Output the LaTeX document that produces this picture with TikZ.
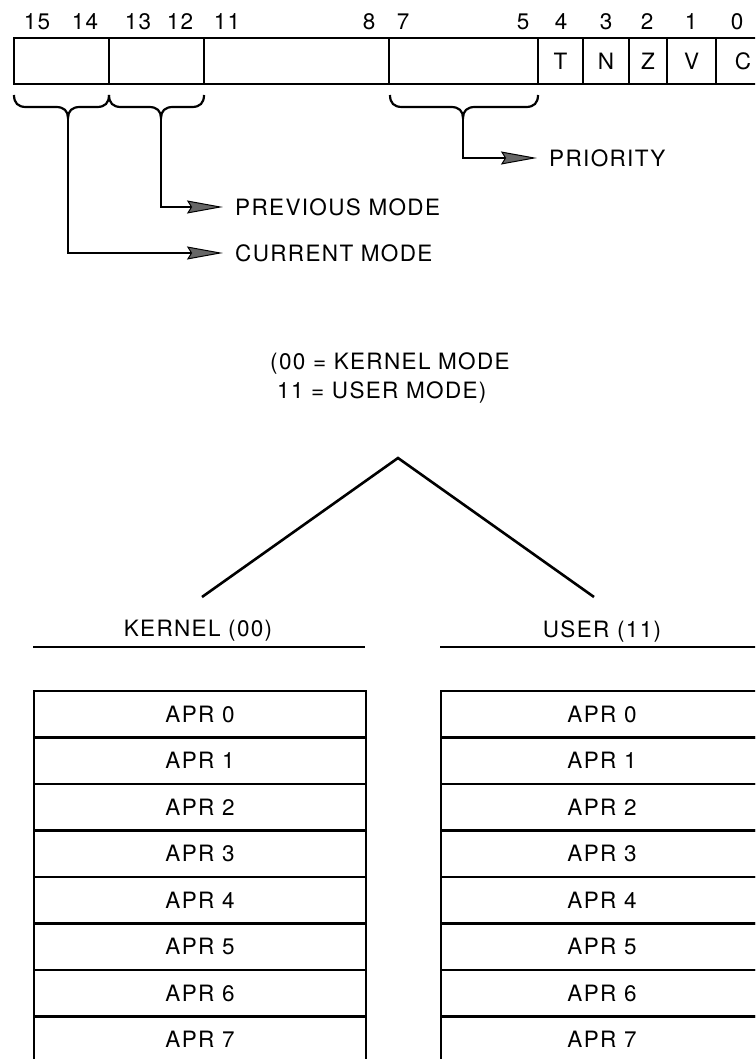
\documentclass[tikz,border=0pt]{standalone}
\usepackage{fontspec}
\setmainfont{TeX Gyre Heros}[LetterSpace=6]
\usetikzlibrary{arrows.meta}
\begin{document}
\begin{tikzpicture}[x=1pt,y=-1pt,
  txt/.style={font=\fontsize{22.5}{26}\selectfont, inner sep=0pt},
  field/.style={draw, line width=2.8pt, minimum height=46pt, inner sep=0pt, font=\fontsize{22.5}{26}\selectfont},
  row/.style={draw, line width=2.8pt, minimum height=46.5pt, inner sep=0pt, font=\fontsize{22.5}{26}\selectfont},
  bracepath/.style={draw, line width=2.2pt},
  pointer/.style={draw, line width=2.2pt, -{Stealth[length=36pt,width=13pt,inset=4pt,line width=1pt,fill=gray!80!black]}},
  rule/.style={line width=2.8pt},
  leg/.style={line width=2.6pt}
]
\useasboundingbox (0,0) rectangle (755,1059);
\clip (0,0) rectangle (755,1059);

% bit numbers
\node[txt] (b15) at (37,22) {15};
\node[txt] (b14) at (85,22) {14};
\node[txt] (b13) at (138,22) {13};
\node[txt] (b12) at (180,22) {12};
\node[txt] (b11) at (227,22) {11};
\node[txt] (b8)  at (369,22) {8};
\node[txt] (b7)  at (403,22) {7};
\node[txt] (b5)  at (523,22) {5};
\node[txt] (b4)  at (561,22) {4};
\node[txt] (b3)  at (606,22) {3};
\node[txt] (b2)  at (647,22) {2};
\node[txt] (b1)  at (691,22) {1};
\node[txt] (b0)  at (737,22) {0};

% register fields
\node[field, minimum width=95pt]  (fcm) at (61.5,61) {};
\node[field, minimum width=95pt]  (fpm) at (156.5,61) {};
\node[field, minimum width=185pt] (fmid) at (296.5,61) {};
\node[field, minimum width=149pt] (fpr) at (463.5,61) {};
\node[field, minimum width=45pt]  (fT) at (560.5,61) {T};
\node[field, minimum width=46pt]  (fN) at (606,61) {N};
\node[field, minimum width=38pt]  (fZ) at (648,61) {Z};
\node[field, minimum width=49pt]  (fV) at (691.5,61) {V};
\node[field, minimum width=54pt]  (fC) at (743,61) {C};

% braces
\coordinate (tcm) at (68,118);
\coordinate (tpm) at (161,118);
\coordinate (tpr) at (463,118);
\draw[bracepath] (14,95) .. controls (14,103) and (18,107) .. (26,107) -- (56,107)
  .. controls (64,107) and (68,111) .. (tcm) .. controls (68,111) and (72,107) .. (80,107)
  -- (97,107) .. controls (105,107) and (109,103) .. (109,95);
\draw[bracepath] (109,95) .. controls (109,103) and (113,107) .. (121,107) -- (149,107)
  .. controls (157,107) and (161,111) .. (tpm) .. controls (161,111) and (165,107) .. (173,107)
  -- (192,107) .. controls (200,107) and (204,103) .. (204,95);
\draw[bracepath] (390,95) .. controls (390,103) and (394,107) .. (402,107) -- (451,107)
  .. controls (459,107) and (463,111) .. (tpr) .. controls (463,111) and (467,107) .. (475,107)
  -- (526,107) .. controls (534,107) and (538,103) .. (538,95);

% labels and pointers
\node[txt, anchor=west] (lpr) at (549,158) {PRIORITY};
\node[txt, anchor=west] (lpm) at (235,207) {PREVIOUS MODE};
\node[txt, anchor=west] (lcm) at (235,253) {CURRENT MODE};
\draw[pointer] (tpr) |- ([xshift=-12pt]lpr.west);
\draw[pointer] (tpm) |- ([xshift=-12pt]lpm.west);
\draw[pointer] (tcm) |- ([xshift=-12pt]lcm.west);

% mode legend
\node[txt, anchor=west] (m1) at (270,363) {(00 = KERNEL MODE};
\node[txt, anchor=west] (m2) at (277,392) {11 = USER MODE)};

% split
\coordinate (apex) at (398,458);
\coordinate (kl) at (202,597);
\coordinate (ul) at (594,597);
\draw[leg] (kl) -- (apex) -- (ul);

% headings
\node[txt] (kh) at (198,631) {KERNEL (00)};
\node[txt] (uh) at (602,631) {USER (11)};
\draw[rule] (33,647) -- (365,647);
\draw[rule] (440,647) -- (770,647);

% APR tables
\foreach \i in {0,...,7} {
  \node[row, minimum width=332pt] (k\i) at (200,{714.25+46.5*\i}) {APR \i};
  \node[row, minimum width=322pt] (u\i) at (602,{714.25+46.5*\i}) {APR \i};
}
\end{tikzpicture}
\end{document}
